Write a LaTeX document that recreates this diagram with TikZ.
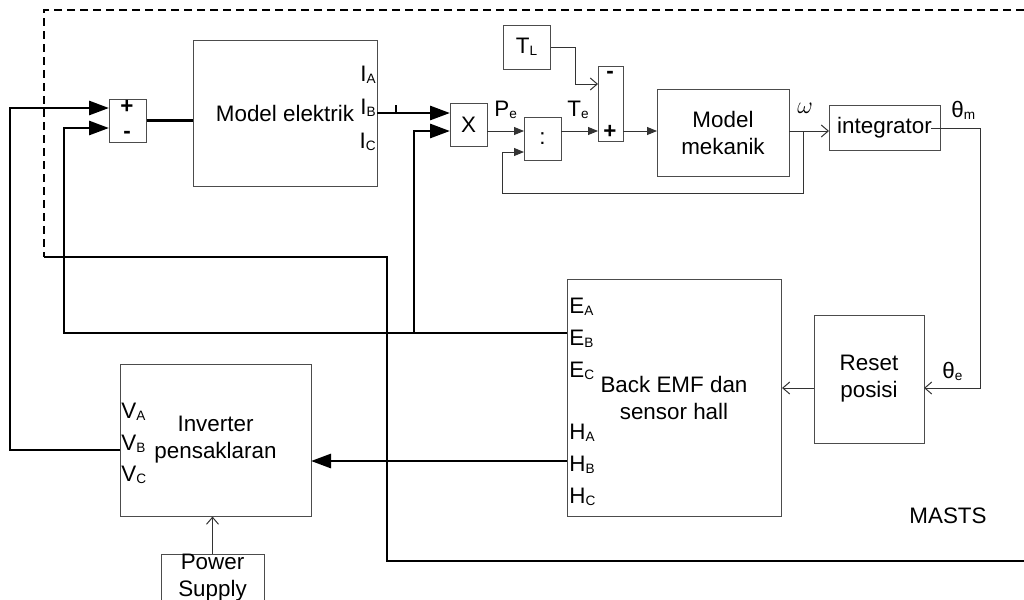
\documentclass[tikz,border=0pt]{standalone}
\usepackage{fontspec}
\setmainfont{Liberation Sans}
\usetikzlibrary{arrows.meta}
\newcommand{\lsub}[1]{\raisebox{-1.2pt}{\fontsize{6.8}{8}\selectfont #1}}
\begin{document}
\begin{tikzpicture}[x=0.5pt,y=-0.5pt,
  font=\fontsize{11.2}{13.5}\selectfont,
  blk/.style={draw=black!70,line width=0.5pt,inner sep=0pt,align=center},
  thk/.style={line width=1.4pt,black},
  thn/.style={line width=0.5pt,black!80},
  sgn/.style={inner sep=0pt,font=\fontsize{11.2}{13.5}\selectfont\bfseries},
  bigarr/.style={-{Triangle[length=10pt,width=7pt]}},
  smarr/.style={-{Triangle[length=5pt,width=4pt]}},
  openarr/.style={-{Straight Barb[length=3.5pt,width=6pt]}},
  lbl/.style={inner sep=0pt}]
\clip (0,0) rectangle (1024,600);

% boundary of MASTS
\draw[black,line width=0.6pt,dash pattern=on 4pt off 2.5pt] (1024,10) -- (44,10) -- (44,257);
\draw[black,line width=0.6pt] (44,257) -- (387,257) -- (387,561) -- (1024,561);
\node[lbl,anchor=base] (masts) at (948,523) {MASTS};

% blocks
\node[blk,minimum width=18.5pt,minimum height=21.5pt] (sum1) at (127.5,120.5) {};
\node[sgn] (sum1p) at (127,107) {+};
\node[sgn] (sum1m) at (127,135) {-};
\node[blk,minimum width=92pt,minimum height=73pt] (elek) at (285,113) {Model elektrik};
\node[lbl,anchor=base east] (ia) at (376,81) {I\lsub{A}};
\node[lbl,anchor=base east] (ib) at (376,114) {I\lsub{B}};
\node[lbl,anchor=base east] (ic) at (376,148) {I\lsub{C}};

\node[blk,minimum width=18.5pt,minimum height=21.5pt] (mul) at (468.5,124.5) {X};
\node[blk,minimum width=18.5pt,minimum height=21.5pt] (div) at (542.5,138.5) {:};
\node[blk,minimum width=23.5pt,minimum height=22pt] (tl) at (526.5,47) {T\lsub{L}};
\node[blk,minimum width=12.5pt,minimum height=37.5pt] (sum2) at (610.5,103.5) {};
\node[sgn] (sum2m) at (610,75) {-};
\node[sgn] (sum2p) at (610,132) {+};
\node[blk,minimum width=66pt,minimum height=43.5pt] (mek) at (723,132.5) {Model\\mekanik};
\node[blk,minimum width=55.5pt,minimum height=22.5pt] (integ) at (884.5,127.5) {integrator};
\node[blk,minimum width=55pt,minimum height=64pt] (reset) at (869,379) {Reset\\posisi};
\node[blk,minimum width=107pt,minimum height=118.5pt] (bemf) at (674,397.5) {Back EMF dan\\sensor hall};
\node[blk,minimum width=95.5pt,minimum height=76pt] (inv) at (215.5,440) {Inverter\\pensaklaran};
\node[blk,minimum width=51.5pt,minimum height=24pt] (ps) at (212.5,578) {Power\\Supply};

% port labels
\node[lbl,anchor=base west] (ea) at (569,313) {E\lsub{A}};
\node[lbl,anchor=base west] (eb) at (569,345) {E\lsub{B}};
\node[lbl,anchor=base west] (ec) at (569,377) {E\lsub{C}};
\node[lbl,anchor=base west] (ha) at (569,439) {H\lsub{A}};
\node[lbl,anchor=base west] (hb) at (569,471) {H\lsub{B}};
\node[lbl,anchor=base west] (hc) at (569,503) {H\lsub{C}};
\node[lbl,anchor=base west] (va) at (121,418) {V\lsub{A}};
\node[lbl,anchor=base west] (vb) at (121,450) {V\lsub{B}};
\node[lbl,anchor=base west] (vc) at (121,481) {V\lsub{C}};
\node[lbl,anchor=base west] (pe) at (494,116) {P\lsub{e}};
\node[lbl,anchor=base west] (te) at (567,116) {T\lsub{e}};
\node[lbl,font=\fontsize{13}{15}\selectfont] (om) at (805,108) {$\omega$};
\node[lbl,anchor=base west] (thm) at (951,117) {θ\lsub{m}};
\node[lbl,anchor=base west] (the) at (942,378) {θ\lsub{e}};

% ports
\coordinate (pVB) at (120,450);
\coordinate (s1a) at (109,108);
\coordinate (s1b) at (109,128);
\coordinate (pEB) at (567,333);
\coordinate (j1) at (414,333);
\coordinate (iB) at (377,113);
\coordinate (mula) at (450,113);
\coordinate (mulb) at (450,131);
\coordinate (pHB) at (567,461);
\coordinate (pinv) at (311,461);
\coordinate (mulo) at (487,131);
\coordinate (divi1) at (524,131);
\coordinate (divi2) at (524,152);
\coordinate (divo) at (561,131);
\coordinate (s2p) at (598,131);
\coordinate (s2m) at (598,84);
\coordinate (s2o) at (623,131);
\coordinate (meki) at (657,131);
\coordinate (meko) at (789,131);
\coordinate (fbj) at (803,131);
\coordinate (inti) at (829,131);
\coordinate (into) at (931,128);
\coordinate (rsti) at (924,388);
\coordinate (rsto) at (814,388);
\coordinate (bemfi) at (782,388);

% thick connectors
\draw[thk,bigarr] (pVB) -- (10,450) -- (10,108) -- (s1a);
\draw[thk,bigarr] (pEB) -- (64,333) -- (64,128) -- (s1b);
\draw[thk,bigarr] (j1) -- (414,131) -- (mulb);
\draw[thk,bigarr] (iB) -- (mula);
\draw[line width=0.6pt] (396,113) -- (396,105);
\draw[thk] (sum1.east) -- (sum1.east -| elek.west);
\draw[thk,bigarr] (pHB) -- (pinv);

% thin connectors
\draw[thn,smarr] (mulo) -- (divi1);
\draw[thn,smarr] (divo) -- (s2p);
\draw[thn,smarr] (s2o) -- (meki);
\draw[thn,openarr] (meko) -- (inti);
\draw[thn,smarr] (fbj) -- (803,193) -- (502,193) -- (502,152) -- (divi2);
\draw[thn,openarr] (tl.east) -- (575,47) -- (575,84) -- (s2m);
\draw[thn,openarr] (into) -- (980,128) -- (980,388) -- (rsti);
\draw[thn,openarr] (rsto) -- (bemfi);
\draw[thn,openarr] (ps.north) -- (ps.north |- inv.south);
\end{tikzpicture}
\end{document}
